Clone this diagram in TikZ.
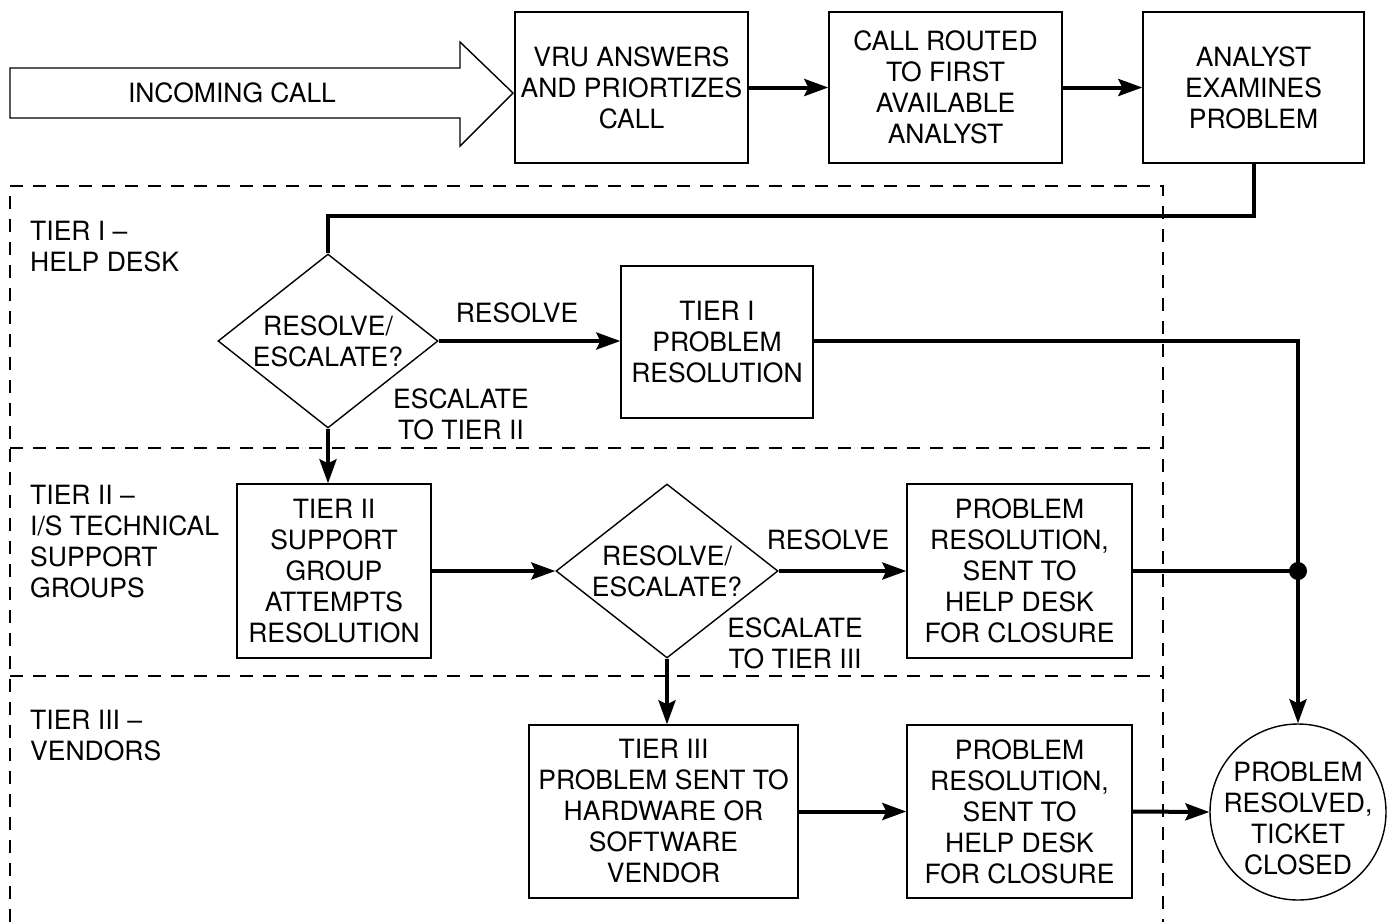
\documentclass[tikz,border=0pt]{standalone}
\usepackage{fontspec}
\setmainfont{TeX Gyre Heros}
\usetikzlibrary{shapes.geometric,arrows.meta,calc}
\begin{document}
\begin{tikzpicture}[x=1pt,y=-1pt,
  every node/.style={font=\fontsize{26.5}{31}\selectfont, align=center, inner sep=0pt},
  box/.style={draw, line width=1.4pt},
  decide/.style={draw, line width=1.4pt, diamond, minimum width=220pt, minimum height=174pt},
  flow/.style={line width=4pt},
  arr/.style={flow, -{Stealth[length=24pt,width=17pt,inset=4pt]}},
  zone/.style={line width=1.3pt, dash pattern=on 13pt off 10pt},
  tierlabel/.style={anchor=west, align=left}]
\useasboundingbox (0,0) rectangle (1391,922);

% tier zones
\draw[zone] (10,922) -- (10,186) -- (1163,186) -- (1163,922);
\draw[zone] (10,448) -- (1163,448);
\draw[zone] (10,676) -- (1163,676);

% incoming call arrow
\draw[line width=1.4pt] (10,68) -- (460,68) -- (460,42) -- (513,93) -- (460,146) -- (460,118) -- (10,118) -- cycle;
\node (inc) at (232,93) {INCOMING CALL};

% top row
\node[box, minimum width=233pt, minimum height=151pt] (vru) at (631.5,87.5) {VRU ANSWERS\\AND PRIORTIZES\\CALL};
\node[box, minimum width=233pt, minimum height=151pt] (route) at (945.5,87.5) {CALL ROUTED\\TO FIRST\\AVAILABLE\\ANALYST};
\node[box, minimum width=221pt, minimum height=151pt] (an) at (1253.5,87.5) {ANALYST\\EXAMINES\\PROBLEM};

% tier I
\node[tierlabel] (l1) at (30,247) {TIER I --\\HELP DESK};
\node[decide] (d1) at (328,341) {};
\node (d1t) at (d1.center) {RESOLVE/\\ESCALATE?};
\node[box, minimum width=192pt, minimum height=152pt] (t1) at (717,342) {TIER I\\PROBLEM\\RESOLUTION};
\node (r1) at (517,313) {RESOLVE};
\node (e1) at (461,414) {ESCALATE\\TO TIER II};

% tier II
\node[tierlabel] (l2) at (30,542) {TIER II --\\I/S TECHNICAL\\SUPPORT\\GROUPS};
\node[box, minimum width=194pt, minimum height=174pt] (t2) at (334,571) {TIER II\\SUPPORT\\GROUP\\ATTEMPTS\\RESOLUTION};
\node[decide, minimum width=222pt] (d2) at (667,571) {};
\node (d2t) at (d2.center) {RESOLVE/\\ESCALATE?};
\node[box, minimum width=225pt, minimum height=174pt] (p2) at (1019.5,571) {PROBLEM\\RESOLUTION,\\SENT TO\\HELP DESK\\FOR CLOSURE};
\node (r2) at (828,540) {RESOLVE};
\node (e2) at (795,643) {ESCALATE\\TO TIER III};

% tier III
\node[tierlabel] (l3) at (30,736) {TIER III --\\VENDORS};
\node[box, minimum width=269pt, minimum height=173pt] (t3) at (663.5,811.5) {TIER III\\PROBLEM SENT TO\\HARDWARE OR\\SOFTWARE\\VENDOR};
\node[box, minimum width=225pt, minimum height=173pt] (p3) at (1019.5,811.5) {PROBLEM\\RESOLUTION,\\SENT TO\\HELP DESK\\FOR CLOSURE};
\node[draw, line width=1.4pt, circle, minimum size=176pt] (done) at (1298,812) {};
\node (donet) at (1298,818) {PROBLEM\\RESOLVED,\\TICKET\\CLOSED};

% connectors
\draw[arr] (vru.east) -- (route.west);
\draw[arr] (route.east) -- (an.west);
\draw[flow] (an.south) -- ++(0,52) -| (d1.north);
\draw[arr] (d1.east) -- (t1.west |- d1.east);
\draw[arr] (d1.south) -- (t2.north -| d1.south);
\draw[arr] (t1.east |- d1.east) -| (done.north);
\draw[arr] (t2.east) -- (d2.west);
\draw[arr] (d2.east) -- (p2.west);
\coordinate (join) at (p2.east -| done.north);
\draw[flow] (p2.east) -- (join);
\fill (join) circle (9pt);
\draw[arr] (d2.south) -- (t3.north -| d2.south);
\draw[arr] (t3.east) -- (p3.west);
\draw[arr] (p3.east) -- (done.west);
\end{tikzpicture}
\end{document}
